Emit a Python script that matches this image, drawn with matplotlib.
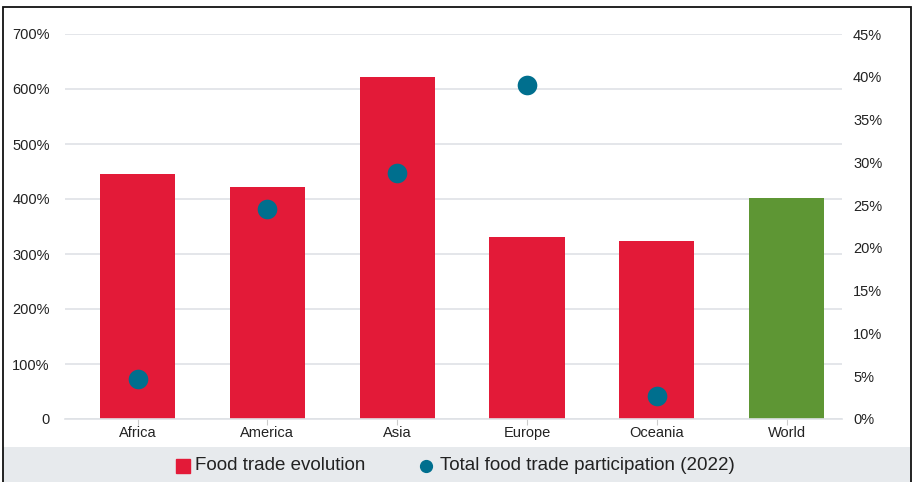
import matplotlib
matplotlib.use("Agg")
import matplotlib.pyplot as plt
from matplotlib.patches import Rectangle
from matplotlib.lines import Line2D

plt.rcParams['font.family'] = ['Liberation Sans', 'DejaVu Sans']

regions = ["Africa", "America", "Asia", "Europe", "Oceania", "World"]
evolution = [445, 422, 622, 331, 324, 402]
participation = [4.7, 24.5, 28.8, 39.0, 2.7, None]
bar_colors = ["#e31a38"] * 5 + ["#5e9634"]
red, teal = "#e31a38", "#006f8e"

W, H = 914, 482
fig = plt.figure(figsize=(W / 100, H / 100), dpi=100)
ax = fig.add_axes([65 / W, 1 - 419 / H, (842 - 65) / W, (419 - 34) / H])
ax2 = ax.twinx()

x = list(range(len(regions)))
ax.bar(x, evolution, width=0.58, color=bar_colors, zorder=2)
px = [i for i, v in zip(x, participation) if v is not None]
py = [v for v in participation if v is not None]
ax2.scatter(px, py, s=200, color=teal, zorder=3, linewidths=0)

ax.set_xlim(-0.559, 5.427)
ax.set_ylim(0, 700)
ax2.set_ylim(0, 45)
ax.set_yticks(range(0, 701, 100))
ax.set_yticklabels(["0"] + [f"{v}%" for v in range(100, 701, 100)])
ax2.set_yticks(range(0, 46, 5))
ax2.set_yticklabels([f"{v}%" for v in range(0, 46, 5)])
ax.set_xticks(x)
ax.set_xticklabels(regions)

ax.grid(axis="y", color="#dfe2e6", linewidth=1.2, zorder=0)
ax.set_axisbelow(True)
for a in (ax, ax2):
    for s in a.spines.values():
        s.set_visible(False)
    a.tick_params(axis="y", length=0, labelsize=10.5, colors="#222222")
ax.tick_params(axis="y", pad=11)
ax2.tick_params(axis="y", pad=8)
ax.spines["bottom"].set_visible(True)
ax.spines["bottom"].set_color("#dfe2e6")
ax.spines["bottom"].set_linewidth(1.2)
ax.tick_params(axis="x", length=4, color="#cccccc", labelsize=10.5, labelcolor="#222222", pad=1)

# gray legend band and frame
fig.patches.append(Rectangle((3 / W, 0), (911 - 3) / W, (482 - 447) / H,
                             transform=fig.transFigure, facecolor="#e7eaed",
                             edgecolor="none", zorder=0))
fig.patches.append(Rectangle((3 / W, -0.01), (911 - 3) / W, 1 - 7 / H + 0.01,
                             transform=fig.transFigure, facecolor="none",
                             edgecolor="#111111", linewidth=1.3, zorder=5))

# legend, placed by hand
ly = 1 - 466 / H
fig.add_artist(Line2D([182.5 / W], [ly], marker="s", markersize=9.5, color=red,
                      linestyle="none", transform=fig.transFigure))
fig.text(195 / W, ly, "Food trade evolution", fontsize=13.5, va="center", ha="left", color="#222222")
fig.add_artist(Line2D([426 / W], [ly], marker="o", markersize=8.5, color=teal,
                      linestyle="none", transform=fig.transFigure))
fig.text(440 / W, ly, "Total food trade participation (2022)", fontsize=13.5,
         va="center", ha="left", color="#222222")

fig.savefig("out.png", dpi=100)
